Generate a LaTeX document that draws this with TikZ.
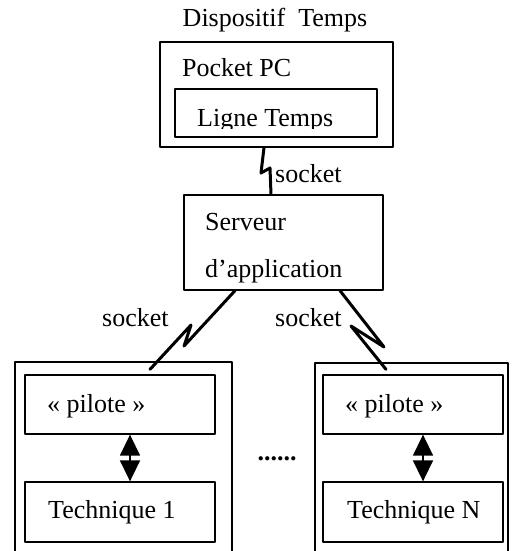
\documentclass[tikz,border=0pt]{standalone}
\usepackage{fontspec}
\setmainfont{Liberation Serif}
\usetikzlibrary{arrows.meta,calc}
\begin{document}
\begin{tikzpicture}[x=1pt,y=-1pt,line join=round,line cap=round,
    font=\fontsize{26}{31}\selectfont,
    box/.style={draw,line width=1.3pt,inner sep=0pt},
    lbl/.style={anchor=base west,inner sep=0pt},
    sock/.style={line width=3pt},
    dbl/.style={{Triangle[length=21pt,width=20pt]}-{Triangle[length=21pt,width=20pt]},line width=1.5pt}]
    \clip (0,0) rectangle (512,551);
    \node[anchor=base,inner sep=0pt] (titre) at (275,27) {Dispositif~ Temps};
    \node[box,minimum width=233pt,minimum height=105pt] (pocket) at (276.5,94.5) {};
    \node[box,minimum width=202pt,minimum height=48pt] (ligne) at (276,113) {};
    \node[lbl] (tpocket) at (182,77) {Pocket PC};
    \begin{scope}
        \clip (175,89) rectangle (377,128);
        \node[lbl] (tligne) at (197,126) {Ligne Temps};
    \end{scope}
    \node[box,minimum width=199pt,minimum height=95pt] (srv) at (283.5,242.5) {};
    \node[lbl] (tsrv1) at (205,230) {Serveur};
    \node[lbl] (tsrv2) at (205,277) {d’application};
    \node[box,minimum width=217pt,minimum height=238pt] (lft) at (123.5,481) {};
    \node[box,minimum width=190pt,minimum height=59pt] (pil1) at (120,404.5) {};
    \node[box,minimum width=190pt,minimum height=60pt] (tech1) at (120,512) {};
    \node[lbl] (tpil1) at (47,412) {« pilote »};
    \node[lbl] (ttech1) at (48,518) {Technique 1};
    \node[box,minimum width=193pt,minimum height=237pt] (rgt) at (411.5,481.5) {};
    \node[box,minimum width=180pt,minimum height=59pt] (pil2) at (413,404.5) {};
    \node[box,minimum width=180pt,minimum height=60pt] (tech2) at (413,512) {};
    \node[lbl] (tpil2) at (345,412) {« pilote »};
    \node[lbl] (ttech2) at (347,518) {Technique N};
    \node[anchor=base,inner sep=0pt] (points) at (277,460) {\textbf{......}};
    \draw[sock] ($(pocket.south)+(-12.5,0)$) -- (261,173) -- (270,168) -- ($(srv.north)+(-12.5,0)$);
    \node[lbl] (s1) at (275,182) {socket};
    \draw[sock] ($(srv.south)+(-48.5,0)$) -- (184,346) -- (191,325) -- ($(lft.north)+(26.5,8)$);
    \node[lbl] (s2) at (102,326) {socket};
    \draw[sock] ($(srv.south)+(56.5,0)$) -- (384,347) -- (351,326) -- ($(rgt.north)+(-25.5,7)$);
    \node[lbl] (s3) at (275,326) {socket};
    \draw[dbl] ($(pil1.south)+(10,0)$) -- ($(tech1.north)+(10,0)$);
    \draw[dbl] ($(pil2.south)+(10,0)$) -- ($(tech2.north)+(10,0)$);
\end{tikzpicture}
\end{document}
